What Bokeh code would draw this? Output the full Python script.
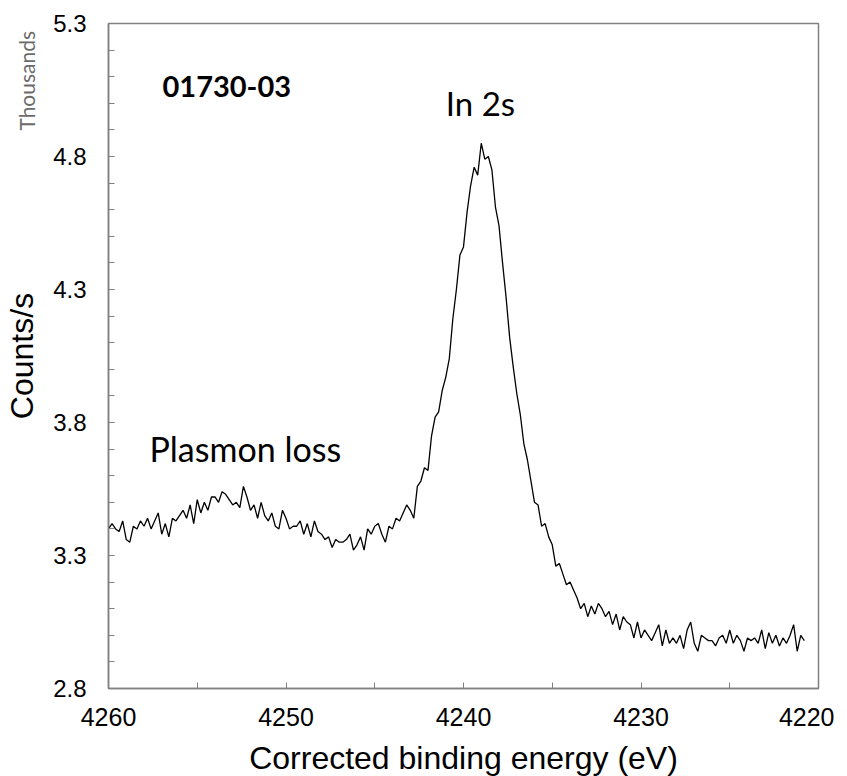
import numpy as np
from bokeh.plotting import figure
from bokeh.models import Range1d, FixedTicker, Label, LinearAxis
from bokeh.embed import file_html
from bokeh.resources import INLINE

# ---------------- data ----------------
energy_start = 4260.0   # eV, first channel
energy_step = 0.2       # eV per channel (decreasing binding energy)

counts_k = [
    3.40, 3.42, 3.40, 3.39, 3.43, 3.36, 3.35, 3.41, 3.40, 3.43,
    3.41, 3.44, 3.40, 3.43, 3.46, 3.38, 3.42, 3.37, 3.44, 3.43,
    3.45, 3.47, 3.44, 3.49, 3.42, 3.51, 3.46, 3.50, 3.47, 3.52,
    3.52, 3.50, 3.54, 3.53, 3.51, 3.49, 3.50, 3.48, 3.56, 3.52,
    3.47, 3.49, 3.44, 3.50, 3.45, 3.43, 3.46, 3.41, 3.40, 3.47,
    3.44, 3.40, 3.41, 3.41, 3.43, 3.38, 3.42, 3.37, 3.43, 3.39,
    3.38, 3.36, 3.37, 3.33, 3.36, 3.35, 3.35, 3.36, 3.38, 3.32,
    3.34, 3.37, 3.32, 3.40, 3.38, 3.41, 3.42, 3.38, 3.35, 3.41,
    3.40, 3.44, 3.43, 3.46, 3.49, 3.47, 3.44, 3.56, 3.58, 3.63,
    3.62, 3.75, 3.82, 3.84, 3.92, 3.97, 4.04, 4.19, 4.30, 4.43,
    4.46, 4.59, 4.69, 4.76, 4.73, 4.85, 4.79, 4.80, 4.75, 4.61,
    4.54, 4.40, 4.27, 4.12, 4.01, 3.91, 3.83, 3.72, 3.66, 3.58,
    3.50, 3.49, 3.41, 3.42, 3.37, 3.34, 3.26, 3.27, 3.23, 3.19,
    3.20, 3.17, 3.14, 3.10, 3.12, 3.07, 3.11, 3.08, 3.12, 3.10,
    3.07, 3.09, 3.04, 3.08, 3.02, 3.07, 3.05, 3.04, 2.99, 3.05,
    2.99, 3.02, 3.00, 2.98, 3.01, 3.04, 2.96, 3.02, 2.97, 2.99,
    2.97, 3.00, 2.95, 3.02, 3.05, 2.97, 2.94, 3.00, 2.99, 2.98,
    2.98, 2.96, 2.99, 3.00, 2.97, 3.02, 2.97, 3.00, 2.98, 2.94,
    2.99, 2.98, 2.99, 2.97, 3.02, 2.95, 3.01, 2.97, 3.00, 2.96,
    2.99, 2.97, 3.00, 3.04, 2.94, 3.00, 2.98,
]
energy = [round(energy_start - i * energy_step, 1) for i in range(len(counts_k))]

x_major = [4260, 4250, 4240, 4230, 4220]
x_minor = [4255, 4245, 4235, 4225]
y_major = [2.8, 3.3, 3.8, 4.3, 4.8, 5.3]
y_minor = [round(2.8 + 0.1 * i, 1) for i in range(26)]

sample_name = "01730-03"
peak_label = "In 2s"
loss_label = "Plasmon loss"
unit_label = "Thousands"

# ---------------- figure ----------------
GRAY = "#808080"
p = figure(
    frame_width=710, frame_height=665,
    min_border_left=100, min_border_top=23, min_border_right=16, min_border_bottom=70,
    x_range=Range1d(4260, 4220), y_range=Range1d(2.8, 5.3),
    output_backend="svg", toolbar_location=None,
    background_fill_color="white", border_fill_color="white",
)
p.outline_line_color = GRAY
p.outline_line_width = 1.5
p.grid.visible = False

p.line(energy, counts_k, line_color="black", line_width=1.3)

xa = p.xaxis[0]
xa.ticker = FixedTicker(ticks=x_major, minor_ticks=x_minor)
xa.axis_label = "Corrected binding energy (eV)"
ya = p.yaxis[0]
ya.ticker = FixedTicker(ticks=y_major, minor_ticks=y_minor)

for ax in (xa, ya):
    ax.axis_line_color = GRAY
    ax.axis_line_width = 1.5
    ax.major_tick_line_color = GRAY
    ax.minor_tick_line_color = GRAY
    ax.major_tick_in = 6
    ax.major_tick_out = 0
    ax.minor_tick_in = 6
    ax.minor_tick_out = 0
    ax.major_label_text_font = "Liberation Sans"
    ax.major_label_text_color = "black"

xa.axis_label_text_font = "Liberation Sans"
xa.axis_label_text_font_style = "normal"
xa.axis_label_text_color = "black"
xa.axis_label_text_font_size = "32px"
xa.major_label_text_font_size = "25px"
xa.major_label_standoff = 19
xa.axis_label_standoff = 11
ya.major_label_text_font_size = "24px"
ya.major_label_standoff = 22
ya.major_label_overrides = {v: f"{v:.1f}" for v in y_major}

# outer left axis without line/ticks: its one tick label is the "Thousands"
# unit note, and its axis label "Counts/s" shares that column
unit_pos = 5.272
ua = LinearAxis(ticker=FixedTicker(ticks=[unit_pos], minor_ticks=[]),
                major_label_overrides={unit_pos: unit_label},
                axis_label="Counts/s")
ua.axis_line_color = None
ua.major_tick_line_color = None
ua.minor_tick_line_color = None
ua.major_tick_in = 0
ua.major_tick_out = 0
ua.major_label_orientation = np.pi / 2
ua.major_label_text_font = "Lato"
ua.major_label_text_font_size = "21px"
ua.major_label_text_color = "#6b6b6b"
ua.major_label_standoff = 24
ua.axis_label_text_font = "Liberation Sans"
ua.axis_label_text_font_style = "normal"
ua.axis_label_text_color = "black"
ua.axis_label_text_font_size = "32px"
ua.axis_label_standoff = -41
p.add_layout(ua, "left")

# ---------------- annotations ----------------
def px_to_x(px):
    return 4260 - (px - 108) / 17.75

def px_to_y(py):
    return 2.8 + (688 - py) / 266.0

p.add_layout(Label(x=px_to_x(162), y=px_to_y(86), text=sample_name,
                   text_font="Lato", text_font_style="bold", text_font_size="29px",
                   text_color="black", text_align="left", text_baseline="alphabetic"))
p.add_layout(Label(x=px_to_x(480), y=px_to_y(102), text=peak_label,
                   text_font="Lato", text_font_size="33px",
                   text_color="black", text_align="center", text_baseline="alphabetic"))
p.add_layout(Label(x=px_to_x(149), y=px_to_y(448), text=loss_label,
                   text_font="Lato", text_font_size="34px",
                   text_color="black", text_align="left", text_baseline="alphabetic"))

open("out.html", "w").write(file_html(p, INLINE))
